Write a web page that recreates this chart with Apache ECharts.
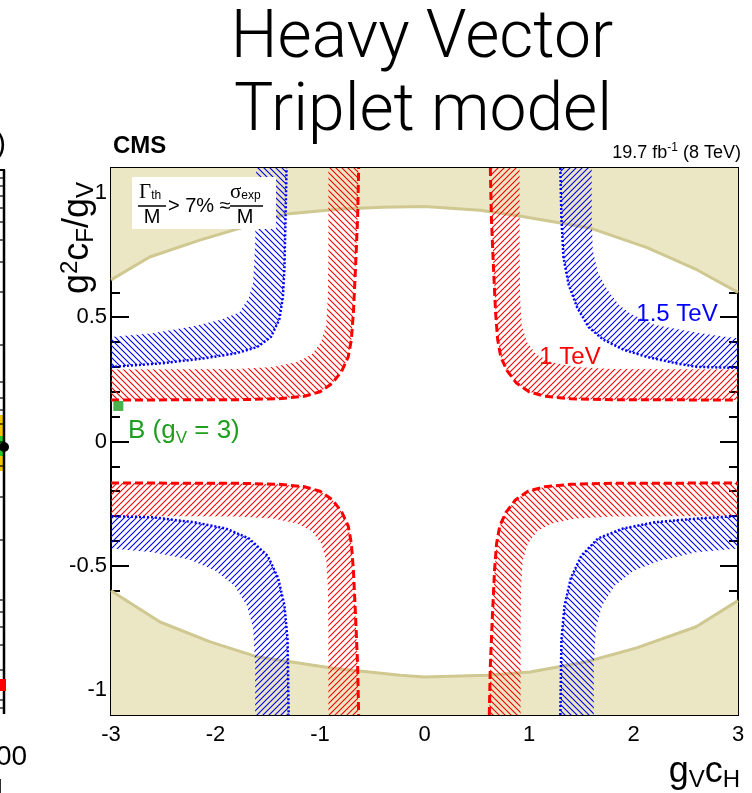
<!DOCTYPE html>
<html><head><meta charset="utf-8">
<script src="https://cdn.jsdelivr.net/npm/echarts@6/dist/echarts.min.js"></script>
<style>html,body{margin:0;padding:0;background:#fff}#c{width:752px;height:793px}</style>
</head><body><div id="c"></div>
<script>
// ---- axis ticks ----
const xMajor = [-3, -2, -1, 0, 1, 2, 3];
const xMinor = [-2.8,-2.6,-2.4,-2.2,-1.8,-1.6,-1.4,-1.2,-0.8,-0.6,-0.4,-0.2,0.2,0.4,0.6,0.8,1.2,1.4,1.6,1.8,2.2,2.4,2.6,2.8];
const yMajor = [-1, -0.5, 0, 0.5, 1];
const yMinor = [-0.9,-0.8,-0.7,-0.6,-0.4,-0.3,-0.2,-0.1,0.1,0.2,0.3,0.4,0.6,0.7,0.8,0.9];

// ---- width-constraint region (tan) boundaries ----
const tanTop = [[-3,0.65],[-2.63,0.742],[-2.15,0.81],[-1.77,0.857],[-1.32,0.915],[-0.8,0.935],[-0.4,0.942],[0,0.945],[0.53,0.93],[0.91,0.907],[1.58,0.859],[2.13,0.78],[2.61,0.69],[3,0.6]];
const tanBottom = [[-3,-0.6],[-2.53,-0.726],[-2.05,-0.806],[-1.6,-0.866],[-0.875,-0.912],[-0.23,-0.94],[0,-0.947],[0.6,-0.94],[1.01,-0.927],[1.55,-0.886],[2.03,-0.83],[2.6,-0.745],[3,-0.64]];

// ---- 1 TeV exclusion bands (red): inner (dashed) and outer edges ----
const redTLin  = [[-3,0.167],[-1.8,0.168],[-1.4,0.172],[-1.15,0.182],[-1.0,0.2],[-0.88,0.235],[-0.79,0.285],[-0.73,0.34],[-0.70,0.41],[-0.68,0.52],[-0.66,0.7],[-0.64,0.9],[-0.63,1.1]];
const redTLout = [[-3,0.29],[-1.8,0.292],[-1.45,0.3],[-1.22,0.32],[-1.08,0.35],[-0.99,0.4],[-0.94,0.47],[-0.925,0.58],[-0.92,0.75],[-0.92,1.1]];
const redTRin  = [[0.63,1.1],[0.64,0.9],[0.66,0.7],[0.68,0.52],[0.70,0.41],[0.73,0.34],[0.79,0.285],[0.88,0.235],[1.0,0.2],[1.15,0.182],[1.4,0.172],[1.8,0.168],[3,0.167]];
const redTRout = [[0.91,1.1],[0.91,0.75],[0.915,0.58],[0.93,0.47],[0.98,0.4],[1.07,0.35],[1.21,0.32],[1.45,0.3],[1.8,0.292],[3,0.29]];
const redBLin  = [[-3,-0.167],[-1.8,-0.168],[-1.4,-0.172],[-1.15,-0.182],[-1.0,-0.2],[-0.88,-0.235],[-0.79,-0.285],[-0.73,-0.34],[-0.70,-0.41],[-0.68,-0.52],[-0.66,-0.7],[-0.64,-0.9],[-0.63,-1.1]];
const redBLout = [[-3,-0.3],[-1.8,-0.302],[-1.45,-0.31],[-1.22,-0.33],[-1.08,-0.36],[-0.99,-0.41],[-0.94,-0.48],[-0.925,-0.58],[-0.92,-0.75],[-0.92,-1.1]];
const redBRin  = [[0.62,-1.1],[0.63,-0.9],[0.65,-0.7],[0.67,-0.52],[0.69,-0.41],[0.72,-0.34],[0.78,-0.285],[0.87,-0.235],[0.99,-0.2],[1.15,-0.182],[1.4,-0.172],[1.8,-0.168],[3,-0.167]];
const redBRout = [[0.92,-1.1],[0.92,-0.75],[0.925,-0.58],[0.94,-0.48],[0.99,-0.41],[1.08,-0.36],[1.22,-0.33],[1.45,-0.31],[1.8,-0.302],[3,-0.3]];

// ---- 1.5 TeV exclusion bands (blue): inner (dotted) and outer edges ----
const blueTLin  = [[-3,0.30],[-2.5,0.315],[-2.1,0.335],[-1.8,0.355],[-1.6,0.38],[-1.47,0.42],[-1.39,0.49],[-1.355,0.58],[-1.34,0.7],[-1.33,0.9],[-1.32,1.1]];
const blueTLout = [[-3,0.42],[-2.6,0.435],[-2.2,0.465],[-1.95,0.49],[-1.77,0.52],[-1.68,0.58],[-1.64,0.64],[-1.62,0.8],[-1.61,1.1]];
const blueTRin  = [[1.3,1.1],[1.31,0.9],[1.33,0.74],[1.38,0.63],[1.46,0.54],[1.57,0.46],[1.71,0.41],[1.9,0.37],[2.13,0.34],[2.4,0.315],[2.61,0.30],[3,0.296]];
const blueTRout = [[1.6,1.1],[1.6,0.9],[1.61,0.77],[1.66,0.68],[1.75,0.61],[1.86,0.55],[1.97,0.515],[2.2,0.47],[2.5,0.445],[2.8,0.425],[3,0.415]];
const blueBLin  = [[-3,-0.30],[-2.6,-0.305],[-2.2,-0.325],[-1.9,-0.35],[-1.68,-0.39],[-1.5,-0.46],[-1.4,-0.55],[-1.34,-0.66],[-1.31,-0.8],[-1.3,-1.1]];
const blueBLout = [[-3,-0.43],[-2.6,-0.445],[-2.25,-0.475],[-2.0,-0.52],[-1.82,-0.58],[-1.7,-0.66],[-1.64,-0.75],[-1.62,-0.9],[-1.62,-1.1]];
const blueBRin  = [[1.3,-1.1],[1.31,-0.8],[1.34,-0.66],[1.4,-0.55],[1.5,-0.46],[1.66,-0.39],[1.9,-0.35],[2.2,-0.325],[2.6,-0.31],[3,-0.3]];
const blueBRout = [[1.62,-1.1],[1.62,-0.9],[1.64,-0.75],[1.7,-0.66],[1.82,-0.58],[2.0,-0.52],[2.25,-0.48],[2.6,-0.445],[3,-0.43]];

// ---- benchmark point B ----
const pointB = [[-2.93, 0.143]];

// ---------------------------------------------------------------
function hatch(color, dir, s) {
  const c = document.createElement('canvas'); c.width = s; c.height = s;
  const g = c.getContext('2d'); g.strokeStyle = color; g.lineWidth = 1.1;
  g.beginPath();
  if (dir === '/') {
    g.moveTo(-1, s + 1); g.lineTo(s + 1, -1);
    g.moveTo(-1, 1); g.lineTo(1, -1);
    g.moveTo(s - 1, s + 1); g.lineTo(s + 1, s - 1);
  } else {
    g.moveTo(-1, -1); g.lineTo(s + 1, s + 1);
    g.moveTo(s - 1, -1); g.lineTo(s + 1, 1);
    g.moveTo(-1, s - 1); g.lineTo(1, s + 1);
  }
  g.stroke();
  return { image: c, repeat: 'repeat' };
}

function polySeries(pts, fill, z) {
  return {
    type: 'custom', coordinateSystem: 'cartesian2d', clip: true, z: z, silent: true,
    data: [[0, 0]],
    renderItem: function (params, api) {
      return { type: 'polygon', shape: { points: pts.map(p => api.coord(p)) }, style: { fill: fill, stroke: null } };
    }
  };
}
function band(inner, outer, fill, z) {
  return polySeries(outer.concat(inner.slice().reverse()), fill, z);
}
function edge(pts, color, width, dash, z) {
  return {
    type: 'line', data: pts, showSymbol: false, symbol: 'none', silent: true, z: z, clip: true,
    lineStyle: { color: color, width: width, type: dash, cap: 'butt' }
  };
}

const RED = '#ff0000', BLUE = '#0000ff', TANFILL = '#ebe6c4', TANLINE = '#cfc891', GREEN = '#1f9e1f';
const redDash = [8, 4], blueDot = [2, 2];

const series = [
  polySeries(tanTop.concat([[3, 1.1], [-3, 1.1]]), TANFILL, 1),
  polySeries(tanBottom.concat([[3, -1.1], [-3, -1.1]]), TANFILL, 1),
  edge(tanTop, TANLINE, 3, 'solid', 2),
  edge(tanBottom, TANLINE, 3, 'solid', 2),

  band(redTLin, redTLout, hatch(RED, '\\', 6), 3),
  band(redTRin, redTRout, hatch(RED, '/', 6), 3),
  band(redBLin, redBLout, hatch(RED, '/', 6), 3),
  band(redBRin, redBRout, hatch(RED, '\\', 6), 3),
  band(blueTLin, blueTLout, hatch(BLUE, '\\', 6), 3),
  band(blueTRin, blueTRout, hatch(BLUE, '/', 6), 3),
  band(blueBLin, blueBLout, hatch(BLUE, '/', 6), 3),
  band(blueBRin, blueBRout, hatch(BLUE, '\\', 6), 3),

  edge(redTLin, RED, 3, redDash, 4), edge(redTRin, RED, 3, redDash, 4),
  edge(redBLin, RED, 3, redDash, 4), edge(redBRin, RED, 3, redDash, 4),
  edge(blueTLin, BLUE, 2.5, blueDot, 4), edge(blueTRin, BLUE, 2.5, blueDot, 4),
  edge(blueBLin, BLUE, 2.5, blueDot, 4), edge(blueBRin, BLUE, 2.5, blueDot, 4),

  { type: 'scatter', data: pointB, symbol: 'rect', symbolSize: 10, itemStyle: { color: GREEN }, z: 6, silent: true }
];

const FONT = 'Liberation Sans, Arial, sans-serif';
function xAx(pos, ticks, len, labels) {
  return {
    type: 'value', min: -3, max: 3, position: pos, gridIndex: 0,
    axisLine: { show: true, onZero: false, lineStyle: { color: '#000', width: 2 } },
    axisTick: { show: true, inside: true, length: len, customValues: ticks, lineStyle: { color: '#000', width: 2 } },
    axisLabel: { show: labels, customValues: xMajor, fontSize: 22, color: '#000', margin: 9, fontFamily: FONT },
    splitLine: { show: false }, minorTick: { show: false }
  };
}
function yAx(pos, ticks, len, labels) {
  return {
    type: 'value', min: -1.1, max: 1.1, position: pos, gridIndex: 0,
    axisLine: { show: true, onZero: false, lineStyle: { color: '#000', width: 2 } },
    axisTick: { show: true, inside: true, length: len, customValues: ticks, lineStyle: { color: '#000', width: 2 } },
    axisLabel: { show: labels, customValues: yMajor, fontSize: 22, color: '#000', margin: 4, fontFamily: FONT },
    splitLine: { show: false }, minorTick: { show: false }
  };
}

const TFONT = '300 66px Roboto, "Liberation Sans", sans-serif';
const graphics = [
  // title
  { type: 'text', x: 422, y: 40, style: { text: 'Heavy Vector', font: TFONT, fill: '#000', align: 'center', verticalAlign: 'middle' }, z: 100 },
  { type: 'text', x: 423, y: 113, style: { text: 'Triplet model', font: TFONT, fill: '#000', align: 'center', verticalAlign: 'middle' }, z: 100 },
  // CMS
  { type: 'text', x: 113, y: 146, style: { text: 'CMS', font: 'bold 24px ' + FONT, fill: '#000', align: 'left', verticalAlign: 'middle' }, z: 100 },
  // lumi
  { type: 'text', x: 741, y: 153, style: {
      text: '{a|19.7 fb}{s|-1}{a| (8 TeV)}', align: 'right', verticalAlign: 'middle',
      rich: { a: { fontSize: 18, fontFamily: FONT, fill: '#000' }, s: { fontSize: 12, fontFamily: FONT, fill: '#000', padding: [0, 0, 10, 0] } } }, z: 100 },
  // white label box
  { type: 'rect', shape: { x: 132, y: 177, width: 144, height: 52 }, style: { fill: '#fff' }, z: 100 },
  { type: 'text', x: 139, y: 192, style: { text: '{g|Γ}{s|th}', verticalAlign: 'middle',
      rich: { g: { fontSize: 21, fontFamily: 'Liberation Serif, serif', fill: '#000' }, s: { fontSize: 12, fontFamily: FONT, fill: '#000', padding: [7, 0, 0, 0] } } }, z: 101 },
  { type: 'line', shape: { x1: 138, y1: 206, x2: 166, y2: 206 }, style: { stroke: '#000', lineWidth: 1.5 }, z: 101 },
  { type: 'text', x: 152, y: 217, style: { text: 'M', font: '20px ' + FONT, fill: '#000', align: 'center', verticalAlign: 'middle' }, z: 101 },
  { type: 'text', x: 168, y: 206, style: { text: '> 7% ≈', font: '20px ' + FONT, fill: '#000', align: 'left', verticalAlign: 'middle' }, z: 101 },
  { type: 'text', x: 230, y: 192, style: { text: '{g|σ}{s|exp}', verticalAlign: 'middle',
      rich: { g: { fontSize: 21, fontFamily: 'Liberation Serif, serif', fill: '#000' }, s: { fontSize: 12, fontFamily: FONT, fill: '#000', padding: [7, 0, 0, 0] } } }, z: 101 },
  { type: 'line', shape: { x1: 230, y1: 206, x2: 263, y2: 206 }, style: { stroke: '#000', lineWidth: 1.5 }, z: 101 },
  { type: 'text', x: 245, y: 217, style: { text: 'M', font: '20px ' + FONT, fill: '#000', align: 'center', verticalAlign: 'middle' }, z: 101 },
  // band labels
  { type: 'text', x: 570, y: 357, style: { text: '1 TeV', font: '24px ' + FONT, fill: RED, align: 'center', verticalAlign: 'middle' }, z: 100 },
  { type: 'text', x: 677, y: 314, style: { text: '1.5 TeV', font: '24px ' + FONT, fill: BLUE, align: 'center', verticalAlign: 'middle' }, z: 100 },
  { type: 'text', x: 128, y: 431, style: { text: '{a|B (g}{s|V}{a| = 3)}', align: 'left', verticalAlign: 'middle',
      rich: { a: { fontSize: 26, fontFamily: FONT, fill: GREEN }, s: { fontSize: 17, fontFamily: FONT, fill: GREEN, padding: [14, 0, 0, 0] } } }, z: 100 },
  // axis titles
  { type: 'text', x: 740, y: 772, style: { text: '{a|g}{s|V}{a|c}{s|H}', align: 'right', verticalAlign: 'middle',
      rich: { a: { fontSize: 36, fontFamily: FONT, fill: '#000' }, s: { fontSize: 24, fontFamily: FONT, fill: '#000', padding: [16, 0, 0, 0] } } }, z: 100 },
  { type: 'text', x: 78, y: 238, rotation: Math.PI / 2, style: { text: '{a|g}{p|2}{a|c}{s|F}{a|/g}{s|V}', align: 'center', verticalAlign: 'middle',
      rich: { a: { fontSize: 36, fontFamily: FONT, fill: '#000' }, p: { fontSize: 24, fontFamily: FONT, fill: '#000', padding: [0, 0, 16, 0] }, s: { fontSize: 24, fontFamily: FONT, fill: '#000', padding: [16, 0, 0, 0] } } }, z: 100 },
  // neighbouring panel remnants (left strip)
  { type: 'line', shape: { x1: 4, y1: 170, x2: 4, y2: 714 }, style: { stroke: '#000', lineWidth: 2.5 }, z: 100 },
  { type: 'line', shape: { x1: 0, y1: 170, x2: 5, y2: 170 }, style: { stroke: '#000', lineWidth: 2 }, z: 100 },
  { type: 'rect', shape: { x: 0, y: 415, width: 4, height: 56 }, style: { fill: '#f5c400' }, z: 99 },
  { type: 'rect', shape: { x: 0, y: 436, width: 4, height: 20 }, style: { fill: '#22cc22' }, z: 99 },
  { type: 'circle', shape: { cx: 4, cy: 447, r: 5 }, style: { fill: '#000' }, z: 101 },
  { type: 'rect', shape: { x: 0, y: 679, width: 6, height: 12 }, style: { fill: '#ff0000' }, z: 101 },
  { type: 'text', x: -4, y: 145, style: { text: ')', font: '30px ' + FONT, fill: '#000', align: 'left', verticalAlign: 'middle' }, z: 100 },
  { type: 'text', x: -4, y: 757, style: { text: '00', font: '28px ' + FONT, fill: '#000', align: 'left', verticalAlign: 'middle' }, z: 100 },
  { type: 'text', x: -8, y: 790, style: { text: '1', font: '26px ' + FONT, fill: '#000', align: 'left', verticalAlign: 'middle' }, z: 100 }
];
// small log-scale ticks of the neighbouring panel
const leftTicksY = [178,186,196,208,222,240,262,292,345,382,398,410,424,442,466,497,540,600,612,627,645,670,700,708];
leftTicksY.forEach(y => graphics.push({ type: 'line', shape: { x1: 0, y1: y, x2: 4, y2: y }, style: { stroke: '#000', lineWidth: 1.2 }, z: 100 }));

const chart = echarts.init(document.getElementById('c'));
chart.setOption({
  animation: false,
  backgroundColor: '#fff',
  grid: { left: 111, right: 14, top: 168, bottom: 78, containLabel: false, show: false },
  xAxis: [xAx('bottom', xMajor, 18, true), xAx('top', xMajor, 18, false), xAx('bottom', xMinor, 9, false), xAx('top', xMinor, 9, false)],
  yAxis: [yAx('left', yMajor, 18, true), yAx('right', yMajor, 18, false), yAx('left', yMinor, 9, false), yAx('right', yMinor, 9, false)],
  series: series,
  graphic: graphics
});
</script></body></html>
